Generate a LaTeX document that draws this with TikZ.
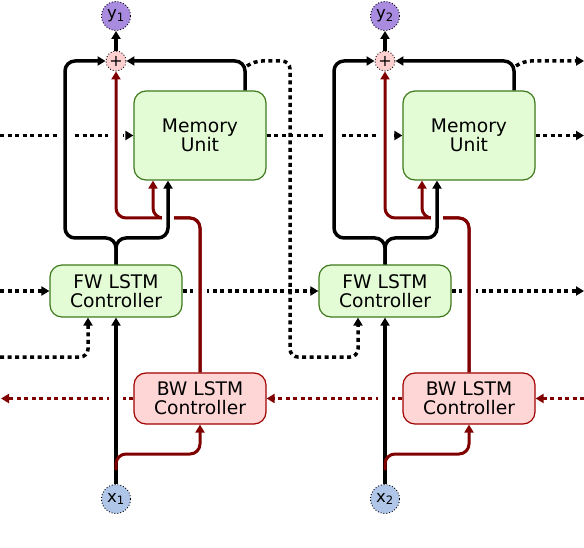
\documentclass[tikz,border=0pt]{standalone}
\usepackage{fontspec}
\setmainfont{DejaVu Sans}
\usetikzlibrary{arrows.meta}
\definecolor{boxgreen}{HTML}{E3FCD5}
\definecolor{edgegreen}{HTML}{3E7A1C}
\definecolor{boxpink}{HTML}{FFD6D6}
\definecolor{edgered}{HTML}{A00000}
\definecolor{darkred}{HTML}{800000}
\definecolor{ypurple}{HTML}{A98CDF}
\definecolor{xblue}{HTML}{AFC6E9}
\definecolor{pluspink}{HTML}{FFD0D0}
\begin{document}
\begin{tikzpicture}[x=1pt,y=-1pt,
  boxtext/.style={align=center, inner sep=0pt, line width=1.2pt, rounded corners=12pt,
    font=\fontsize{18.7}{19}\selectfont},
  membox/.style={boxtext, draw=edgegreen, fill=boxgreen, minimum width=132pt, minimum height=89pt},
  fwbox/.style={boxtext, draw=edgegreen, fill=boxgreen, minimum width=132pt, minimum height=52pt},
  bwbox/.style={boxtext, draw=edgered, fill=boxpink, minimum width=132pt, minimum height=51pt},
  circbase/.style={circle, draw, dotted, line width=0.9pt, inner sep=0pt},
  ycirc/.style={circbase, fill=ypurple, minimum size=29pt, font=\fontsize{16.5}{16.5}\selectfont},
  xcirc/.style={circbase, fill=xblue, minimum size=29pt, font=\fontsize{16.5}{16.5}\selectfont},
  pluscirc/.style={circbase, fill=pluspink, minimum size=20pt, font=\fontsize{16}{16}\selectfont},
  tip/.style={-{Triangle[length=8pt,width=9pt]}},
  blk/.style={line width=3.5pt, black, rounded corners=10pt, tip},
  redl/.style={line width=3pt, darkred, rounded corners=10pt, tip},
  dotblk/.style={line width=3.5pt, black, dash pattern=on 4pt off 3.5pt, rounded corners=8pt, tip},
  dotred/.style={line width=3.2pt, darkred, dash pattern=on 4pt off 3.5pt, tip},
  gap/.style={fill=white, draw=none}
]
\useasboundingbox (0,0) rectangle (584,548);

% ---------- nodes ----------
\foreach \i/\dx in {1/0, 2/269} {
  \node[ycirc] (y\i) at (116+\dx,16) {y\textsubscript{\i}};
  \node[pluscirc] (plus\i) at (116+\dx,61) {+};
  \node[membox] (mem\i) at (200+\dx,135.5) {Memory\\Unit};
  \node[fwbox] (fw\i) at (116+\dx,291) {FW LSTM\\Controller};
  \node[bwbox] (bw\i) at (200+\dx,398.5) {BW LSTM\\Controller};
  \node[xcirc] (x\i) at (116+\dx,499) {x\textsubscript{\i}};
}

% ---------- free ends ----------
\coordinate (memL) at (0,135.5);
\coordinate (memR) at (584,135.5);
\coordinate (fwL) at (0,291);
\coordinate (fwR) at (584,291);
\coordinate (bwL) at (1,398.5);
\coordinate (bwR) at (584,398.5);
\coordinate (fbL) at (0,357);
\coordinate (tap1) at (247,66);
\coordinate (tap2) at (516,66);
\coordinate (outR) at (584,61);

% ---------- dotted recurrent connections ----------
\draw[dotblk] (memL) -- (mem1.west);
\draw[dotblk] (mem1.east) -- (mem2.west);
\draw[dotblk] (mem2.east) -- (memR);
\draw[dotblk] (fwL) -- (fw1.west);
\draw[dotblk] (fw1.east) -- (fw2.west);
\draw[dotblk] (fw2.east) -- (fwR);
\draw[dotred] (bwR) -- (bw2.east);
\draw[dotred] (bw2.west) -- (bw1.east);
\draw[dotred] (bw1.west) -- (bwL);
\draw[dotblk] (fbL) -- (88,357) -- (fw1.south -| 88,0);
\draw[dotblk] (tap1) -- (254,61) -- (290,61) -- (290,357) -- (358,357) -- (fw2.south -| 358,0);
\draw[dotblk] (tap2) -- (523,61) -- (outR);

% ---------- gaps in dotted lines ----------
\foreach \dx in {0,269} {
  \fill[gap] (57+\dx,131) rectangle (72+\dx,141);
  \fill[gap] (108+\dx,131) rectangle (123+\dx,141);
  \fill[gap] (193+\dx,286) rectangle (207+\dx,296);
  \fill[gap] (109+\dx,394) rectangle (123+\dx,404);
}

% ---------- solid connections ----------
\foreach \i/\dx in {1/0, 2/269} {
  % backward controller to memory and output
  \draw[redl] (bw\i.north) |- (116+\dx,218) -- (plus\i.south);
  \draw[redl] (bw\i.north) |- (153+\dx,218) -- (mem\i.south -| 153+\dx,0);
  \fill[gap] (162+\dx,214) rectangle (174+\dx,222);
  % input to controllers
  \draw[blk] (x\i.north) -- (fw\i.south);
  \draw[redl] ([yshift=14pt]x\i.north) |- (200+\dx,454) -- (bw\i.south);
  % forward controller to output and memory
  \draw[blk] (fw\i.north) |- (65+\dx,238) |- (plus\i.west);
  \draw[blk] (fw\i.north) |- (168+\dx,238) -- (mem\i.south -| 168+\dx,0);
  % memory to output
  \draw[blk] (mem\i.north -| 245+\dx,0) |- (plus\i.east);
  \draw[blk] (plus\i.north) -- (y\i.south);
}
\end{tikzpicture}
\end{document}
